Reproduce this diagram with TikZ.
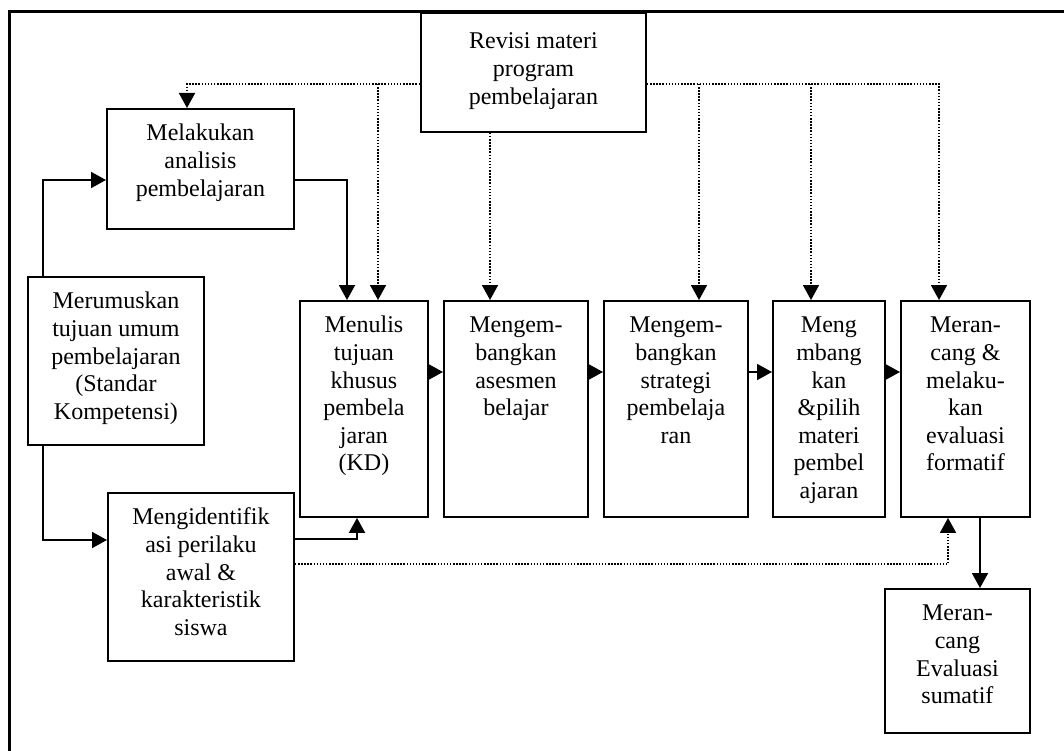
\documentclass[tikz,border=0pt]{standalone}
\usepackage{fontspec}
\setmainfont{Liberation Serif}
\usetikzlibrary{arrows.meta}
% box contents: width, height, first baseline offset, lines
\newcommand\boxlines[4]{%
  \begin{minipage}[t][#2][t]{#1}\centering\rule{0pt}{#3}#4\end{minipage}}
\tikzset{
  stepbox/.style={draw, line width=1.9pt, inner sep=0pt, anchor=north west,
    font=\fontsize{24pt}{27.6pt}\selectfont},
  arr/.style={line width=1.9pt, -{Triangle[length=15pt,width=16pt]}},
  dotline/.style={line width=1.7pt, dash pattern=on 1.5pt off 1.6pt},
  dotarr/.style={dotline, -{Triangle[length=15pt,width=16pt]}},
}
\begin{document}
\begin{tikzpicture}[x=1pt,y=-1pt]
\useasboundingbox (0,0) rectangle (1064,751);
% frame
\draw[line width=2.2pt] (9.5,760) -- (9.5,11.5) -- (1070,11.5);

\node[stepbox] (revisi) at (420,12)
  {\boxlines{225pt}{119pt}{36pt}{Revisi materi\\program\\pembelajaran}};
\node[stepbox] (melakukan) at (106,108)
  {\boxlines{187pt}{120pt}{32pt}{Melakukan\\analisis\\pembelajaran}};
\node[stepbox] (merumuskan) at (27,276)
  {\boxlines{176pt}{168pt}{32pt}{Merumuskan\\tujuan umum\\pembelajaran\\(Standar\\Kompetensi)}};
\node[stepbox] (mengid) at (107,492)
  {\boxlines{186pt}{168pt}{32pt}{Mengidentifik\\asi perilaku\\awal \&\\karakteristik\\siswa}};
\node[stepbox] (menulis) at (299,300)
  {\boxlines{128pt}{216pt}{32pt}{Menulis\\tujuan\\khusus\\pembela\\jaran\\(KD)}};
\node[stepbox] (asesmen) at (443,300)
  {\boxlines{144pt}{216pt}{32pt}{Mengem-\\bangkan\\asesmen\\belajar}};
\node[stepbox] (strategi) at (603,300)
  {\boxlines{144pt}{216pt}{32pt}{Mengem-\\bangkan\\strategi\\pembelaja\\ran}};
\node[stepbox] (materi) at (772,300)
  {\boxlines{112pt}{216pt}{32pt}{Meng\\mbang\\kan\\\&pilih\\materi\\pembel\\ajaran}};
\node[stepbox] (formatif) at (900,300)
  {\boxlines{129pt}{216pt}{32pt}{Meran-\\cang \&\\melaku-\\kan\\evaluasi\\formatif}};
\node[stepbox] (sumatif) at (884,588)
  {\boxlines{145pt}{144pt}{32pt}{Meran-\\cang\\Evaluasi\\sumatif}};

% solid flow
\draw[arr] (merumuskan.north -| 43,0) |- (melakukan.west |- 0,180);
\draw[arr] (merumuskan.south -| 43,0) |- (mengid.west |- 0,540);
\draw[arr] (melakukan.east |- 0,180) -| (menulis.north -| 347,0);
\draw[arr] (mengid.east |- 0,539) -| (menulis.south -| 357,0);
\draw[arr] (menulis.east |- 0,372) -- (asesmen.west |- 0,372);
\draw[arr] (asesmen.east |- 0,372) -- (strategi.west |- 0,372);
\draw[arr] (strategi.east |- 0,372) -- (materi.west |- 0,372);
\draw[arr] (materi.east |- 0,372) -- (formatif.west |- 0,372);
\draw[arr] (formatif.south -| 980,0) -- (sumatif.north -| 980,0);

% revision feedback (dotted)
\coordinate (b1) at (378,84);
\coordinate (b3) at (699,84);
\coordinate (b4) at (811,84);
\draw[dotarr] (revisi.west |- 0,84) -| (melakukan.north -| 187,0);
\draw[dotarr] (revisi.east |- 0,84) -| (formatif.north -| 939,0);
\draw[dotarr] (b1) -- (menulis.north -| b1);
\draw[dotarr] (revisi.south -| 490,0) -- (asesmen.north -| 490,0);
\draw[dotarr] (b3) -- (strategi.north -| b3);
\draw[dotarr] (b4) -- (materi.north -| b4);
\draw[dotarr] (mengid.east |- 0,564) -| (formatif.south -| 948,0);
\end{tikzpicture}
\end{document}
